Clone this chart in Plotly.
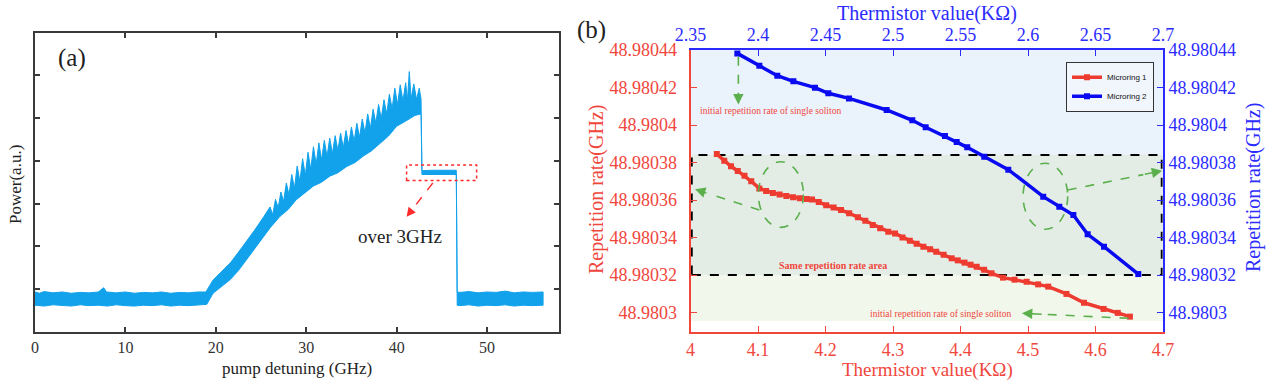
import plotly.graph_objects as go

W, H = 1269, 383

# ---------------- panel (a) data: power trace envelope ----------------
upper_detuning = [0, 0.5, 1, 2, 3, 4, 5, 6, 7, 7.6, 7.9, 9, 10, 11, 12, 13, 14, 15, 16, 17, 18, 18.9,
                  19.7, 20.5, 21.6, 22.5, 23.4, 24.3, 25.3,
                  26.0, 26.3, 26.6, 26.9, 27.2, 27.5, 27.8, 28.1, 28.4, 28.7, 29.0, 29.3, 29.6, 29.9,
                  30.2, 30.5, 30.8, 31.1, 31.4, 31.7, 32.0, 32.3, 32.6, 32.9, 33.2, 33.5, 33.8, 34.1,
                  34.4, 34.7, 35.0, 35.3, 35.6, 35.9, 36.2, 36.5, 36.8, 37.1, 37.4, 37.7, 38.0, 38.3,
                  38.6, 38.9, 39.2, 39.5, 39.8, 40.1, 40.4, 40.7, 41.0, 41.2, 41.4, 41.6, 41.9, 42.2,
                  42.5, 42.7,
                  42.8, 44.0, 45.5, 46.6,
                  46.7, 47, 48, 49, 50, 51, 52, 53, 54, 55, 56.2]
upper_power = [0.93, 0.90, 0.94, 0.91, 0.93, 0.90, 0.92, 0.91, 0.93, 1.03, 0.93, 0.91, 0.93, 0.90, 0.92, 0.91, 0.93, 0.90, 0.92, 0.91, 0.93, 0.93,
               1.21, 1.38, 1.61, 1.86, 2.11, 2.38, 2.69,
               2.92, 2.74, 3.10, 2.90, 3.27, 3.05, 3.48, 3.20, 3.68, 3.36, 3.88, 3.52, 4.05, 3.66,
               4.20, 3.80, 4.33, 3.92, 4.42, 4.02, 4.48, 4.10, 4.53, 4.17, 4.59, 4.24, 4.65, 4.31,
               4.71, 4.38, 4.79, 4.46, 4.88, 4.55, 4.98, 4.65, 5.10, 4.76, 5.21, 4.88, 5.32, 4.99,
               5.43, 5.10, 5.56, 5.22, 5.70, 5.32, 5.78, 5.40, 5.83, 5.42, 6.09, 5.45, 5.80, 5.44,
               5.70, 5.45,
               3.77, 3.78, 3.77, 3.78,
               0.93, 0.92, 0.94, 0.91, 0.93, 0.92, 0.95, 0.91, 0.93, 0.92, 0.93]

lower_detuning = [0, 1, 2, 3, 4, 5, 6, 7, 8, 9, 10, 11, 12, 13, 14, 15, 16, 17, 18, 19.0,
                  19.7, 20.5, 21.6, 22.5, 23.4, 24.3, 25.3, 26.0, 27.1, 28.0, 28.9, 29.8, 30.8,
                  31.7, 32.6, 33.5, 34.5, 35.4, 36.3, 37.2, 38.2, 39.1, 40.0, 41.0, 42.0, 42.7,
                  42.8, 46.6,
                  46.7, 47, 48, 49, 50, 51, 52, 53, 54, 55, 56.2]
lower_power = [0.62, 0.60, 0.63, 0.61, 0.60, 0.63, 0.61, 0.62, 0.60, 0.63, 0.61, 0.60, 0.62, 0.61, 0.63, 0.60, 0.62, 0.61, 0.62, 0.64,
               0.90, 1.04, 1.22, 1.43, 1.69, 1.93, 2.23, 2.43, 2.70, 2.86, 3.09, 3.23, 3.41,
               3.50, 3.64, 3.72, 3.87, 3.96, 4.11, 4.23, 4.42, 4.58, 4.81, 4.93, 5.06, 5.10,
               3.68, 3.68,
               0.62, 0.61, 0.63, 0.60, 0.62, 0.61, 0.63, 0.60, 0.62, 0.61, 0.62]

detuning_ticks = [0, 10, 20, 30, 40, 50]
power_ticks = [1, 2, 3, 4, 5, 6]

# ---------------- panel (b) data ----------------
red_kohm = [4.039, 4.050, 4.060, 4.070, 4.080, 4.090, 4.102, 4.112, 4.122, 4.132, 4.142, 4.152, 4.162,
            4.172, 4.180, 4.190, 4.201, 4.212, 4.223, 4.235, 4.248, 4.259, 4.270, 4.281, 4.293, 4.303,
            4.314, 4.325, 4.335, 4.345, 4.355, 4.364, 4.375, 4.387, 4.396, 4.406, 4.415, 4.424, 4.435,
            4.446, 4.463, 4.480, 4.498, 4.515, 4.530, 4.557, 4.583, 4.612, 4.633, 4.651]
red_rate = [48.9803845, 48.9803810, 48.9803780, 48.9803755, 48.9803730, 48.9803700, 48.9803662,
            48.9803648, 48.9803638, 48.9803630, 48.9803622, 48.9803615, 48.9803609, 48.9803606,
            48.9803603, 48.9803590, 48.9803572, 48.9803560, 48.9803547, 48.9803530, 48.9803508,
            48.9803490, 48.9803467, 48.9803450, 48.9803431, 48.9803422, 48.9803400, 48.9803383,
            48.9803367, 48.9803351, 48.9803338, 48.9803324, 48.9803308, 48.9803289, 48.9803278,
            48.9803266, 48.9803255, 48.9803244, 48.9803228, 48.9803209, 48.9803186, 48.9803175,
            48.9803164, 48.9803150, 48.9803138, 48.9803099, 48.9803052, 48.9803019, 48.9802998,
            48.9802978]

blue_kohm = [2.3847, 2.4010, 2.4143, 2.4262, 2.4422, 2.4521, 2.4674, 2.4953, 2.5143, 2.5242, 2.5385,
             2.5472, 2.5550, 2.5676, 2.5854, 2.6113, 2.6232, 2.6336, 2.6442, 2.6563, 2.6817]
blue_rate = [48.9804382, 48.9804316, 48.9804263, 48.9804233, 48.9804199, 48.9804169, 48.9804142,
             48.9804080, 48.9804025, 48.9803988, 48.9803941, 48.9803909, 48.9803881, 48.9803831,
             48.9803762, 48.9803618, 48.9803564, 48.9803520, 48.9803417, 48.9803351, 48.9803205]

bottom_ticks = [4.0, 4.1, 4.2, 4.3, 4.4, 4.5, 4.6, 4.7]
bottom_ticktext = ["4", "4.1", "4.2", "4.3", "4.4", "4.5", "4.6", "4.7"]
top_ticks = [2.35, 2.4, 2.45, 2.5, 2.55, 2.6, 2.65, 2.7]
top_ticktext = ["2.35", "2.4", "2.45", "2.5", "2.55", "2.6", "2.65", "2.7"]
rate_ticks = [48.9803, 48.98032, 48.98034, 48.98036, 48.98038, 48.9804, 48.98042, 48.98044]
rate_ticktext = ["48.9803", "48.98032", "48.98034", "48.98036", "48.98038", "48.9804", "48.98042", "48.98044"]

same_area_top = 48.980384
same_area_bottom = 48.98032
shade_bottom = 48.9802955
rate_range = [48.9802896, 48.98044]

# ---------------- styling ----------------
SERIF = "Liberation Serif"
SANS = "Liberation Sans"
TRACE_A = "#12a2ec"
RED = "#ee3b30"
RED_AX = "#f0463c"
BLUE = "#0a0af0"
BLUE_AX = "#2b2bff"
GREEN = "#5cb04c"
FRAME = "#3a3a3a"

def px_x(p):
    return p / W

def px_y(p):
    return 1 - p / H

fig = go.Figure()

# panel (a) band
band_x = upper_detuning + lower_detuning[::-1]
band_y = upper_power + lower_power[::-1]
fig.add_trace(go.Scatter(x=band_x, y=band_y, xaxis="x", yaxis="y", mode="lines",
                         fill="toself", fillcolor=TRACE_A,
                         line=dict(color=TRACE_A, width=1), showlegend=False, hoverinfo="skip"))

# panel (b) series
fig.add_trace(go.Scatter(x=red_kohm, y=red_rate, xaxis="x2", yaxis="y2", mode="lines+markers",
                         name="Microring 1", line=dict(color=RED, width=3.5),
                         marker=dict(symbol="square", size=6, color=RED)))
fig.add_trace(go.Scatter(x=blue_kohm, y=blue_rate, xaxis="x3", yaxis="y3", mode="lines+markers",
                         name="Microring 2", line=dict(color=BLUE, width=3.5),
                         marker=dict(symbol="square", size=6, color=BLUE)))

domA_x = [px_x(35), px_x(559)]
domA_y = [px_y(331.7), px_y(32.7)]
domB_x = [px_x(690.5), px_x(1163)]
domB_y = [px_y(332), px_y(50)]

common_a = dict(showline=True, linecolor=FRAME, linewidth=2, mirror="ticks", ticks="inside",
                ticklen=5, tickwidth=1.5, tickcolor=FRAME, showgrid=False, zeroline=False)

fig.update_layout(
    width=W, height=H, margin=dict(l=0, r=0, t=0, b=0, autoexpand=False), autosize=False,
    paper_bgcolor="white", plot_bgcolor="white",
    xaxis=dict(domain=domA_x, anchor="y", range=[0, 57.96], tickvals=detuning_ticks,
               tickfont=dict(family=SERIF, size=16, color="#333"), **common_a),
    yaxis=dict(domain=domA_y, anchor="x", range=[0, 7], tickvals=power_ticks,
               showticklabels=False, **common_a),
    xaxis2=dict(domain=domB_x, anchor="y2", range=[4, 4.7], side="bottom",
                tickvals=bottom_ticks, ticktext=bottom_ticktext,
                showline=True, linecolor=RED_AX, linewidth=2, ticks="inside", ticklen=6,
                tickcolor=RED_AX, tickfont=dict(family=SERIF, size=18, color=RED_AX),
                showgrid=False, zeroline=False),
    xaxis3=dict(overlaying="x2", anchor="y2", side="top", range=[2.35, 2.7],
                tickvals=top_ticks, ticktext=top_ticktext,
                showline=True, linecolor=BLUE_AX, linewidth=2, ticks="inside", ticklen=6,
                tickcolor=BLUE_AX, tickfont=dict(family=SERIF, size=18, color=BLUE_AX),
                showgrid=False, zeroline=False),
    yaxis2=dict(domain=domB_y, anchor="x2", range=rate_range, side="left",
                tickvals=rate_ticks, ticktext=rate_ticktext,
                showline=True, linecolor=RED_AX, linewidth=2, ticks="inside", ticklen=6,
                tickcolor=RED_AX, tickfont=dict(family=SERIF, size=18, color=RED_AX),
                ticklabelstandoff=8, showgrid=False, zeroline=False),
    yaxis3=dict(overlaying="y2", anchor="x2", side="right", range=rate_range,
                tickvals=rate_ticks, ticktext=rate_ticktext,
                showline=True, linecolor=BLUE_AX, linewidth=2, ticks="inside", ticklen=6,
                tickcolor=BLUE_AX, tickfont=dict(family=SERIF, size=18, color=BLUE_AX),
                showgrid=False, zeroline=False),
    legend=dict(x=px_x(1066), y=px_y(61.7), xanchor="left", yanchor="top",
                bgcolor="rgba(255,255,255,0.3)", bordercolor="#333", borderwidth=1,
                font=dict(family=SANS, size=8, color="#111"), tracegroupgap=0,
                itemwidth=30),
)

shapes = []
# shaded regions in (b)
shapes.append(dict(type="rect", xref="x2", yref="y2", x0=4, x1=4.7, y0=same_area_top, y1=rate_range[1],
                   fillcolor="#eaf3fb", line=dict(width=0), layer="below"))
shapes.append(dict(type="rect", xref="x2", yref="y2", x0=4, x1=4.7, y0=same_area_bottom, y1=same_area_top,
                   fillcolor="#e3ede6", line=dict(width=0), layer="below"))
shapes.append(dict(type="rect", xref="x2", yref="y2", x0=4, x1=4.7, y0=shade_bottom, y1=same_area_bottom,
                   fillcolor="#f2f7ec", line=dict(width=0), layer="below"))
shapes.append(dict(type="rect", xref="x2", yref="y2", x0=4.002, x1=4.698, y0=same_area_bottom, y1=same_area_top,
                   line=dict(color="black", width=1.8, dash="dash"), layer="below"))
# ellipses
shapes.append(dict(type="circle", xref="x2", yref="y2", x0=4.1006, x1=4.1673, y0=48.9803454, y1=48.9803804,
                   line=dict(color=GREEN, width=1.6, dash="dash")))
shapes.append(dict(type="circle", xref="x2", yref="y2", x0=4.4927, x1=4.5588, y0=48.9803444, y1=48.9803796,
                   line=dict(color=GREEN, width=1.6, dash="dash")))
# red dotted box in (a)
shapes.append(dict(type="rect", xref="x", yref="y", x0=41.1, x1=48.85, y0=3.54, y1=3.90,
                   line=dict(color="#ff2a2a", width=1.5, dash="dot")))

annotations = []

def dashed_arrow(tail, head, color, xref, yref, width=1.6):
    mid = (tail[0] + 0.8 * (head[0] - tail[0]), tail[1] + 0.8 * (head[1] - tail[1]))
    shapes.append(dict(type="line", xref=xref, yref=yref, x0=tail[0], y0=tail[1],
                       x1=mid[0], y1=mid[1], line=dict(color=color, width=width, dash="dash")))
    annotations.append(dict(x=head[0], y=head[1], xref=xref, yref=yref,
                            ax=mid[0], ay=mid[1], axref=xref, ayref=yref, text="", showarrow=True,
                            arrowhead=2, arrowsize=1.3, arrowwidth=width, arrowcolor=color))

# green arrows in (b)
dashed_arrow((4.0709, 48.9804364), (4.0709, 48.980411), GREEN, "x2", "y2")
dashed_arrow((4.102, 48.9803547), (4.0067, 48.9803657), GREEN, "x2", "y2")
dashed_arrow((4.5588, 48.9803653), (4.6988, 48.9803756), GREEN, "x2", "y2")
dashed_arrow((4.649, 48.9802969), (4.491, 48.9802996), GREEN, "x2", "y2")
# red arrow in (a)
dashed_arrow((44.0, 3.48), (41.1, 2.69), "#ff2a2a", "x", "y", width=1.4)

def text(x, y, s, size, color, xref="paper", yref="paper", angle=0, family=SERIF, xanchor="center"):
    annotations.append(dict(x=x, y=y, xref=xref, yref=yref, text=s, showarrow=False, textangle=angle,
                            font=dict(family=family, size=size, color=color),
                            xanchor=xanchor, yanchor="middle"))

text(4.1187, 48.9804075, "initial repetition rate of single soliton", 9.5, RED_AX, "x2", "y2")
text(4.371, 48.9802994, "initial repetition rate of single soliton", 9.5, RED_AX, "x2", "y2")
text(4.211, 48.9803252, "<b>Same repetition rate area</b>", 10, RED_AX, "x2", "y2")
text(40.4, 2.22, "over 3GHz", 19, "#222", "x", "y")

text(px_x(72), px_y(58), "(a)", 25, "#222")
text(px_x(591), px_y(30), "(b)", 25, "#222")
text(px_x(297), px_y(368), "pump detuning (GHz)", 17, "#222")
text(px_x(15), px_y(185), "Power(a.u.)", 17, "#222", angle=-90)
text(px_x(927), px_y(13), "Thermistor value(KΩ)", 20, BLUE_AX)
text(px_x(927), px_y(370), "Thermistor value(KΩ)", 19, RED_AX)
text(px_x(596), px_y(190), "Repetition rate(GHz)", 20, RED_AX, angle=-90)
text(px_x(1253), px_y(188), "Repetition rate(GHz)", 20, BLUE_AX, angle=-90)

fig.update_layout(shapes=shapes, annotations=annotations)
fig.write_html("out.html", config={"displayModeBar": False},
               post_script="document.body.style.margin='0px';document.body.style.overflow='hidden';")
